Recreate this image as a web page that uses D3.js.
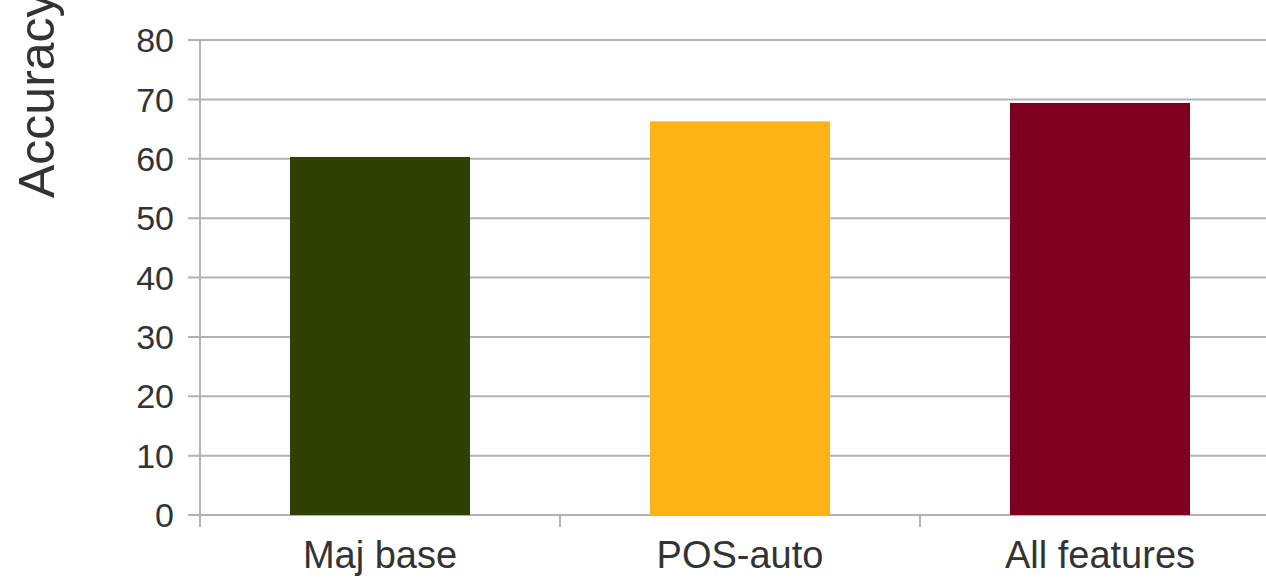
<!DOCTYPE html>
<html>
<head>
<meta charset="utf-8">
<script src="https://cdn.jsdelivr.net/npm/d3@7"></script>
<style>
  html, body { margin: 0; padding: 0; background: #ffffff; }
  svg { display: block; }
  text { font-family: "Liberation Sans", Arial, sans-serif; }
</style>
</head>
<body>
<svg id="chart" width="1266" height="578"></svg>
<script>
// Accuracy per feature set
const categories = ["Maj base", "POS-auto", "All features"];
const accuracy = [60.3, 66.3, 69.4];
const barColors = ["#314004", "#ffb416", "#7e0021"];
const yTicks = [0, 10, 20, 30, 40, 50, 60, 70, 80];
const yTitle = "Accuracy";

const svg = d3.select("#chart");
const gridColor = "#b3b3b3";

const x = d3.scaleBand()
  .domain(categories)
  .range([200, 1280])
  .paddingInner(0.5)
  .paddingOuter(0.25);

const y = d3.scaleLinear()
  .domain([0, 80])
  .range([515, 40]);

// horizontal gridlines, with the short tick stubs left of the axis
svg.append("g")
  .selectAll("line")
  .data(yTicks)
  .join("line")
  .attr("x1", 188)
  .attr("x2", 1280)
  .attr("y1", d => y(d))
  .attr("y2", d => y(d))
  .attr("stroke", gridColor)
  .attr("stroke-width", 2);

// bars
svg.append("g")
  .selectAll("rect")
  .data(categories)
  .join("rect")
  .attr("x", d => x(d))
  .attr("width", x.bandwidth())
  .attr("y", (d, i) => y(accuracy[i]))
  .attr("height", (d, i) => y(0) - y(accuracy[i]))
  .attr("fill", (d, i) => barColors[i]);

// vertical axis line
svg.append("line")
  .attr("x1", 200).attr("x2", 200)
  .attr("y1", y(80)).attr("y2", y(0) + 12)
  .attr("stroke", gridColor)
  .attr("stroke-width", 2);

// category boundary ticks on the x axis
const boundaries = [200, 200 + x.step(), 200 + 2 * x.step(), 200 + 3 * x.step()];
svg.append("g")
  .selectAll("line")
  .data(boundaries)
  .join("line")
  .attr("x1", d => d).attr("x2", d => d)
  .attr("y1", y(0)).attr("y2", y(0) + 12)
  .attr("stroke", gridColor)
  .attr("stroke-width", 2);

// y tick labels
svg.append("g")
  .selectAll("text")
  .data(yTicks)
  .join("text")
  .attr("x", 174)
  .attr("y", d => y(d))
  .attr("dy", "0.36em")
  .attr("text-anchor", "end")
  .attr("font-size", 34)
  .attr("fill", "#333333")
  .text(d => d);

// category labels
svg.append("g")
  .selectAll("text")
  .data(categories)
  .join("text")
  .attr("x", d => x(d) + x.bandwidth() / 2)
  .attr("y", 568)
  .attr("text-anchor", "middle")
  .attr("font-size", 38)
  .attr("fill", "#333333")
  .text(d => d);

// y axis title
svg.append("text")
  .attr("transform", "translate(54,198) rotate(-90)")
  .attr("text-anchor", "start")
  .attr("font-size", 50)
  .attr("fill", "#333333")
  .text(yTitle);
</script>
</body>
</html>
